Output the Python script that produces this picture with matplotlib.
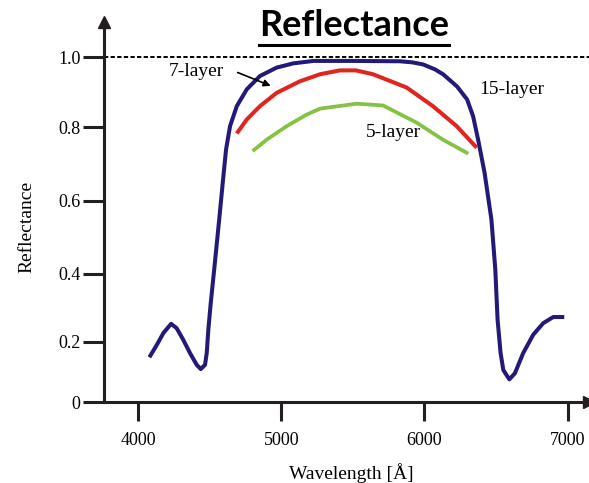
import numpy as np
import matplotlib.pyplot as plt
from matplotlib import font_manager

# 15-layer stack (blue)
wl_15 = [4077, 4129, 4175, 4229, 4268, 4314, 4361, 4408, 4436, 4466, 4478, 4489,
         4506, 4530, 4551, 4565, 4592, 4613, 4641, 4688, 4758, 4850, 4967, 5083,
         5223, 5479, 5829, 5913, 5990, 6073, 6130, 6228, 6298, 6340, 6375, 6420,
         6468, 6495, 6511, 6532, 6551, 6593, 6632, 6690, 6760, 6830, 6900, 6977]
r_15 = [0.149, 0.190, 0.226, 0.253, 0.240, 0.206, 0.163, 0.124, 0.110, 0.124, 0.163, 0.235,
        0.314, 0.411, 0.493, 0.548, 0.657, 0.739, 0.803, 0.860, 0.908, 0.946, 0.970, 0.982,
        0.989, 0.989, 0.988, 0.985, 0.979, 0.965, 0.951, 0.916, 0.879, 0.831, 0.766, 0.676,
        0.548, 0.412, 0.265, 0.163, 0.107, 0.076, 0.096, 0.163, 0.221, 0.255, 0.273, 0.273]

# 7-layer stack (red)
wl_7 = [4688, 4758, 4850, 4967, 5130, 5270, 5409, 5521, 5640, 5876, 6059, 6225, 6365]
r_7 = [0.783, 0.822, 0.860, 0.898, 0.931, 0.951, 0.962, 0.962, 0.951, 0.913, 0.860, 0.803, 0.744]

# 5-layer stack (green)
wl_5 = [4799, 4897, 5037, 5177, 5270, 5526, 5710, 5945, 6129, 6306]
r_5 = [0.735, 0.766, 0.803, 0.836, 0.853, 0.867, 0.862, 0.813, 0.766, 0.728]

x_ticks = [4000, 5000, 6000, 7000]
x_ticklabels = ['4000', '5000', '6000', '7000']
y_ticks = [0, 0.2, 0.4, 0.6, 0.8, 1.0]
y_ticklabels = ['0', '0.2', '0.4', '0.6', '0.8', '1.0']

# the original y axis is not evenly spaced, so use a piecewise scale
knot_v = np.array([-1.0, 0, 0.2, 0.4, 0.6, 0.8, 1.0, 2.0])
knot_h = np.array([-301.5, 0, 60.3, 128.3, 201.3, 274.6, 344.6, 694.6])

def _fwd(v):
    return np.interp(v, knot_v, knot_h)

def _inv(h):
    return np.interp(h, knot_h, knot_v)

# pick a Times-like face that is really installed
installed = {f.name for f in font_manager.fontManager.ttflist}
serif = next((n for n in ('Liberation Serif', 'Times New Roman', 'Nimbus Roman', 'DejaVu Serif')
              if n in installed), 'serif')
plt.rcParams['font.family'] = [serif, 'DejaVu Serif']
axcol = '#231f20'

W, H = 589, 483
fig = plt.figure(figsize=(W/100, H/100), dpi=100)
ax = fig.add_axes([104.3/W, (H-402.3)/H, (W-104.3)/W, (402.3-22)/H])
ax.set_yscale('function', functions=(_fwd, _inv))

ax.plot(wl_15, r_15, color='#231a78', lw=2.9, solid_capstyle='butt', solid_joinstyle='round')
ax.plot(wl_7, r_7, color='#e1251e', lw=2.9, solid_capstyle='butt', solid_joinstyle='round')
ax.plot(wl_5, r_5, color='#84c341', lw=2.7, solid_capstyle='butt', solid_joinstyle='round')

ax.axhline(1.0, color='k', lw=1.4, ls=(0, (2.2, 1.2)))

ax.set_xlim(3762, 7150)
ax.set_ylim(0, 1.1)

for s in ('top', 'right'):
    ax.spines[s].set_visible(False)
for s in ('left', 'bottom'):
    ax.spines[s].set_linewidth(2.2)
    ax.spines[s].set_color(axcol)

ax.set_xticks(x_ticks)
ax.set_xticklabels(x_ticklabels, family=serif)
ax.set_yticks(y_ticks)
ax.set_yticklabels(y_ticklabels, family=serif)
ax.yaxis.set_minor_locator(plt.NullLocator())
ax.tick_params(axis='y', direction='out', length=15, width=2.2, color=axcol, pad=2, labelsize=13)
ax.tick_params(axis='x', direction='out', length=13.5, width=2.2, color=axcol, pad=8, labelsize=13)

# arrow heads on the axes
ax.plot(0, 1, marker='^', ms=9, color=axcol, transform=ax.transAxes, clip_on=False)
ax.plot(1, 0, marker='>', ms=9, color=axcol, transform=ax.transAxes, clip_on=False)

ax.set_xlabel('Wavelength [Å]', fontsize=14)
ax.xaxis.set_label_coords((351.7-104.3)/(W-104.3), -(463-402.3)/(402.3-22))
ax.set_ylabel('Reflectance', fontsize=14)
ax.yaxis.set_label_coords(-(104.3-35)/(W-104.3), (402.3-227)/(402.3-22))

ax.text(4403, 0.959, '7-layer', ha='center', va='center', fontsize=14)
ax.text(6612, 0.908, '15-layer', ha='center', va='center', fontsize=14)
ax.text(5781, 0.786, '5-layer', ha='center', va='center', fontsize=14)
ax.annotate('', xy=(4943, 0.915), xytext=(4676, 0.959),
            arrowprops=dict(arrowstyle='-|>', color='k', lw=1.2, mutation_scale=10))

title = fig.text(354/W, 1-25/H, 'Reflectance', ha='center', va='center',
                 fontsize=26, fontweight='bold', family='Lato')
fig.canvas.draw()
bb = title.get_window_extent().transformed(fig.transFigure.inverted())
fig.add_artist(plt.Line2D([bb.x0, bb.x1], [1-45/H, 1-45/H], color='k', lw=2.2,
                          transform=fig.transFigure))

fig.savefig('out.png', dpi=100)
